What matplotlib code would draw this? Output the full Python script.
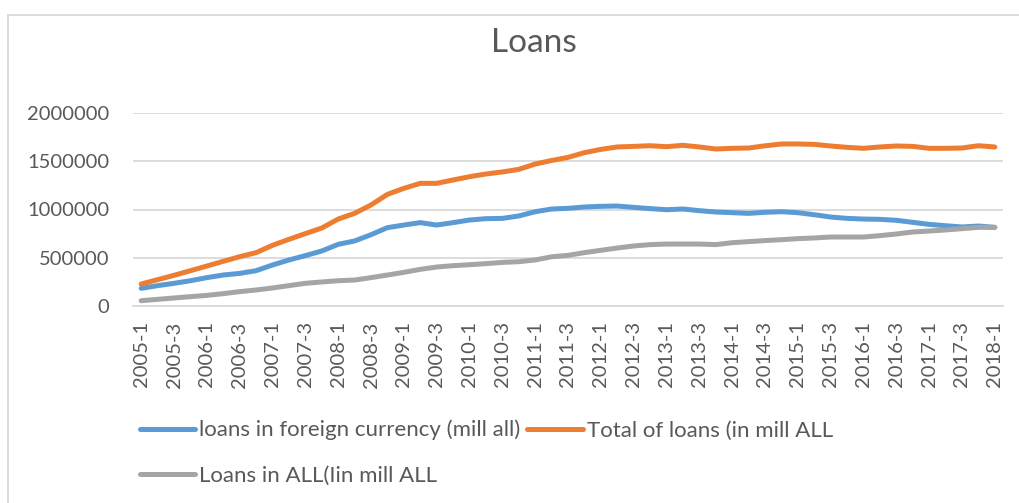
import numpy as np
import matplotlib.pyplot as plt
from matplotlib.patches import Rectangle

# quarterly periods 2005-1 .. 2018-1
periods = [f'{y}-{q}' for y in range(2005, 2019) for q in range(1, 5)][:53]

foreign = [183, 211, 235, 262, 294, 321, 338, 366, 425, 477,
           522, 570, 639, 674, 739, 812, 839, 864, 839, 864,
           891, 905, 908, 933, 977, 1005, 1012, 1026, 1033, 1036,
           1022, 1009, 998, 1005, 988, 974, 967, 960, 971, 977,
           967, 946, 922, 908, 901, 898, 888, 867, 846, 832,
           819, 829, 815]
total = [228, 273, 318, 366, 414, 463, 511, 553, 629, 691,
         750, 808, 901, 960, 1047, 1157, 1219, 1271, 1271, 1306,
         1340, 1368, 1389, 1416, 1471, 1508, 1540, 1589, 1623, 1648,
         1654, 1661, 1651, 1665, 1648, 1627, 1634, 1637, 1660, 1679,
         1679, 1675, 1658, 1644, 1634, 1648, 1658, 1654, 1634, 1634,
         1637, 1661, 1648]
domestic = [55, 69, 83, 97, 110, 128, 149, 166, 187, 211,
            235, 249, 262, 269, 294, 321, 349, 380, 404, 418,
            428, 439, 452, 459, 477, 510, 525, 553, 577, 601,
            622, 636, 642, 642, 642, 636, 656, 667, 678, 687,
            698, 705, 715, 715, 715, 729, 746, 767, 777, 788,
            801, 815, 815]

foreign = np.array(foreign) * 1000
total = np.array(total) * 1000
domestic = np.array(domestic) * 1000

txt = '#595959'
grid = '#D9D9D9'
plt.rcParams['font.family'] = ['Lato', 'DejaVu Sans']

fig = plt.figure(figsize=(10.19, 5.03), dpi=100)
ax = fig.add_axes([133 / 1019, 1 - 306 / 503, 870 / 1019, 193 / 503])

x = np.arange(len(periods))
lw = 3.6
l1, = ax.plot(x, foreign, color='#5B9BD5', lw=lw, solid_capstyle='round',
              solid_joinstyle='round', label='loans in foreign currency (mill all)')
l2, = ax.plot(x, total, color='#ED7D31', lw=lw, solid_capstyle='round',
              solid_joinstyle='round', label='Total of loans (in mill ALL')
l3, = ax.plot(x, domestic, color='#A5A5A5', lw=lw, solid_capstyle='round',
              solid_joinstyle='round', label='Loans in ALL(Iin mill ALL')

ax.set_xlim(-0.5, len(periods) - 0.5)
ax.set_ylim(0, 2000000)
ax.set_yticks(np.arange(0, 2000001, 500000))
ax.set_yticklabels([str(v) for v in range(0, 2000001, 500000)])
ax.set_xticks(x[::2])
ax.set_xticklabels(periods[::2], rotation=90)
ax.grid(axis='y', color=grid, lw=1.3)
ax.set_axisbelow(True)
for s in ['top', 'right', 'left']:
    ax.spines[s].set_visible(False)
ax.spines['bottom'].set_color(grid)
ax.spines['bottom'].set_linewidth(1.3)
ax.tick_params(length=0, colors=txt, labelsize=14.5)
ax.tick_params(axis='y', pad=17)
ax.tick_params(axis='x', pad=11)

fig.text(534 / 1019, 1 - 43 / 503, 'Loans', ha='center', va='center',
         fontsize=24, color=txt)

leg = fig.legend(handles=[l1, l3, l2], ncol=2, loc='upper left',
                 bbox_to_anchor=(131 / 1019, 1 - 411 / 503), frameon=False,
                 fontsize=16, handlelength=2.5, handletextpad=0.18,
                 columnspacing=0.3, labelspacing=1.15, borderaxespad=0)
for t in leg.get_texts():
    t.set_color(txt)

fig.patches.append(Rectangle((7.5 / 1019, -0.1), 1.2, 1.1 - 15 / 503,
                             transform=fig.transFigure, fill=False,
                             edgecolor=grid, lw=1.3))

fig.savefig('out.png', dpi=100, facecolor='white')
